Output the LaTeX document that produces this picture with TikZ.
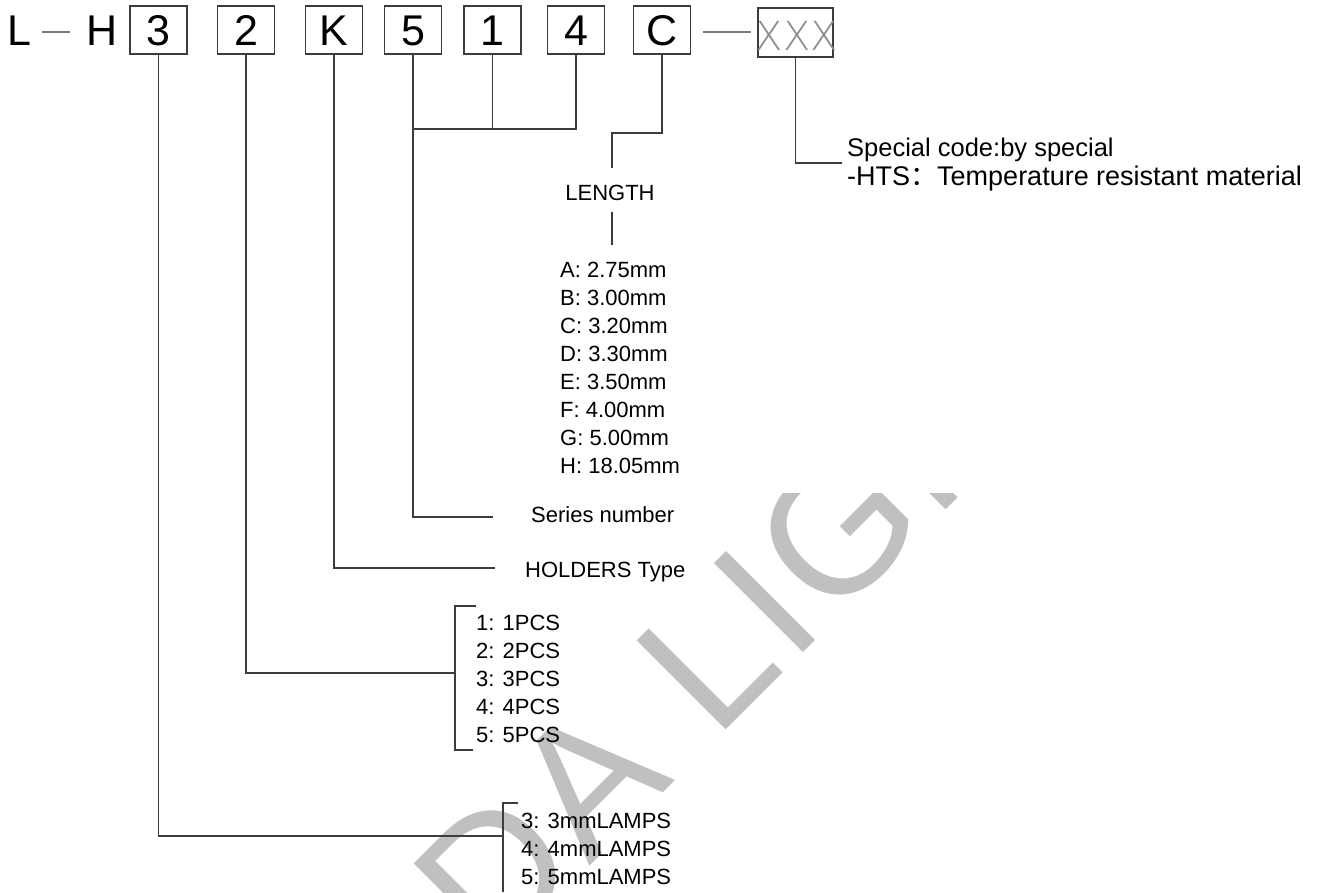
\documentclass[tikz,border=0pt]{standalone}
\usepackage{fontspec}
\setmainfont{Liberation Sans}
\newfontfamily\cjkfont{Noto Sans CJK SC}
\newfontfamily\wmfont[LetterSpace=3]{Liberation Sans}
\IfFontExistsTF{DejaVu Sans ExtraLight}{\newfontfamily\xfont{DejaVu Sans ExtraLight}}{\newfontfamily\xfont{DejaVu Sans}}
\definecolor{lncol}{HTML}{3C3C3C}
\definecolor{dashcol}{HTML}{7A7A7A}
\definecolor{wmcol}{HTML}{C0C0C0}
\definecolor{xcol}{HTML}{8C8C8C}
\tikzset{
  ln/.style={draw=lncol, line width=1.1pt},
  dashln/.style={draw=dashcol, line width=1.1pt},
  codebox/.style={draw=lncol, line width=1.1pt, minimum width=57pt, minimum height=48pt, inner sep=0pt, text height=31pt, text depth=0pt, font=\fontsize{43}{43}\selectfont},
  bigtxt/.style={font=\fontsize{43}{43}\selectfont, inner sep=0pt, anchor=base west},
  lbl/.style={font=\fontsize{22}{22}\selectfont, inner sep=0pt, anchor=base west},
  speclbl/.style={font=\fontsize{25.5}{25.5}\selectfont, inner sep=0pt, anchor=base west},
  wm/.style={font=\wmfont\fontsize{183}{183}\selectfont, text=wmcol, inner sep=0pt}
}
\begin{document}
\begin{tikzpicture}[x=1pt,y=-1pt]
\useasboundingbox (0,0) rectangle (1319,892);
\fill[white] (0,0) rectangle (1319,892);
% watermark
\begin{scope}
  \clip (0,493) rectangle (1319,892);
  \node[wm, rotate=45, anchor=base west] (wmark) at (492,964) {DA LIGHT};
\end{scope}
% code row
\node[bigtxt] (L) at (7,45) {L};
\node[bigtxt] (H) at (86,45) {H};
\node[codebox] (b3) at (158.5,30) {3};
\node[codebox] (b2) at (246,30) {2};
\node[codebox] (bK) at (334,30) {K};
\node[codebox] (b5) at (413,30) {5};
\node[codebox] (b1) at (492.5,30) {1};
\node[codebox] (b4) at (576,30) {4};
\node[codebox] (bC) at (662,30) {C};
\node[draw=lncol, line width=1.1pt, minimum width=75pt, minimum height=49pt, inner sep=0pt] (bX) at (795.5,32.5) {};
\node[font=\xfont\fontsize{40}{40}\selectfont, text=xcol, inner sep=0pt] (xtxt) at (797,35.5) {XXX};
% dashes
\coordinate (d1a) at (42,32); \coordinate (d1b) at (70,32);
\coordinate (d2a) at (703,32); \coordinate (d2b) at (751,32);
\draw[dashln] (d1a) -- (d1b);
\draw[dashln] (d2a) -- (d2b);
% labels
\node[font=\fontsize{22}{22}\selectfont, inner sep=0pt, anchor=base] (len) at (610,200) {LENGTH};
\node[lbl] (la) at (560,277) {A: 2.75mm};
\node[lbl] (lb) at (560,305) {B: 3.00mm};
\node[lbl] (lc) at (560,333) {C: 3.20mm};
\node[lbl] (ld) at (560,361) {D: 3.30mm};
\node[lbl] (le) at (560,389) {E: 3.50mm};
\node[lbl] (lf) at (560,417) {F: 4.00mm};
\node[lbl] (lg) at (560,445) {G: 5.00mm};
\node[lbl] (lh) at (560,473) {H: 18.05mm};
\node[lbl] (ser) at (531,522) {Series number};
\node[lbl] (hol) at (525,577) {HOLDERS Type};
\node[lbl] (p1) at (476,630) {1: 1PCS};
\node[lbl] (p2) at (476,658) {2: 2PCS};
\node[lbl] (p3) at (476,686) {3: 3PCS};
\node[lbl] (p4) at (476,714) {4: 4PCS};
\node[lbl] (p5) at (476,742) {5: 5PCS};
\node[lbl] (m3) at (521,828) {3: 3mmLAMPS};
\node[lbl] (m4) at (521,856) {4: 4mmLAMPS};
\node[lbl] (m5) at (521,884) {5: 5mmLAMPS};
\node[speclbl] (sp1) at (847,156) {Special code:by special};
\node[speclbl, font=\fontsize{27}{27}\selectfont] (sp2) at (847,185) {-HTS{\cjkfont ：}Temperature resistant material};
% junction coordinates
\coordinate (lampJ) at (503,836);
\coordinate (lampT) at (518,803);
\coordinate (lampTop) at (503,803);
\coordinate (lampBot) at (503,892);
\coordinate (pcsJ) at (455,673);
\coordinate (pcsT) at (476,606);
\coordinate (pcsTop) at (455,606);
\coordinate (pcsBot) at (455,750);
\coordinate (pcsB) at (473,750);
\coordinate (holJ) at (495,568);
\coordinate (serJ) at (493,517);
\coordinate (j5) at (413,129);
\coordinate (cJ) at (612,133);
\coordinate (lenTop) at (612,168);
\coordinate (lenB1) at (612,212);
\coordinate (lenB2) at (612,245);
\coordinate (spJ) at (842,163);
% connectors
\draw[ln] (b3.south) |- (lampJ);
\draw[ln] (lampT) -- (lampTop) -- (lampBot);
\draw[ln] (b2.south) |- (pcsJ);
\draw[ln] (pcsT) -- (pcsTop) -- (pcsBot) -- (pcsB);
\draw[ln] (bK.south) |- (holJ);
\draw[ln] (b5.south) |- (serJ);
\draw[ln] (b4.south) |- (j5);
\draw[ln] (b1.south) -- (b1.south |- j5);
\draw[ln] (bC.south) |- (cJ) -- (lenTop);
\draw[ln] (lenB1) -- (lenB2);
\draw[ln] (bX.south) |- (spJ);
\end{tikzpicture}
\end{document}
